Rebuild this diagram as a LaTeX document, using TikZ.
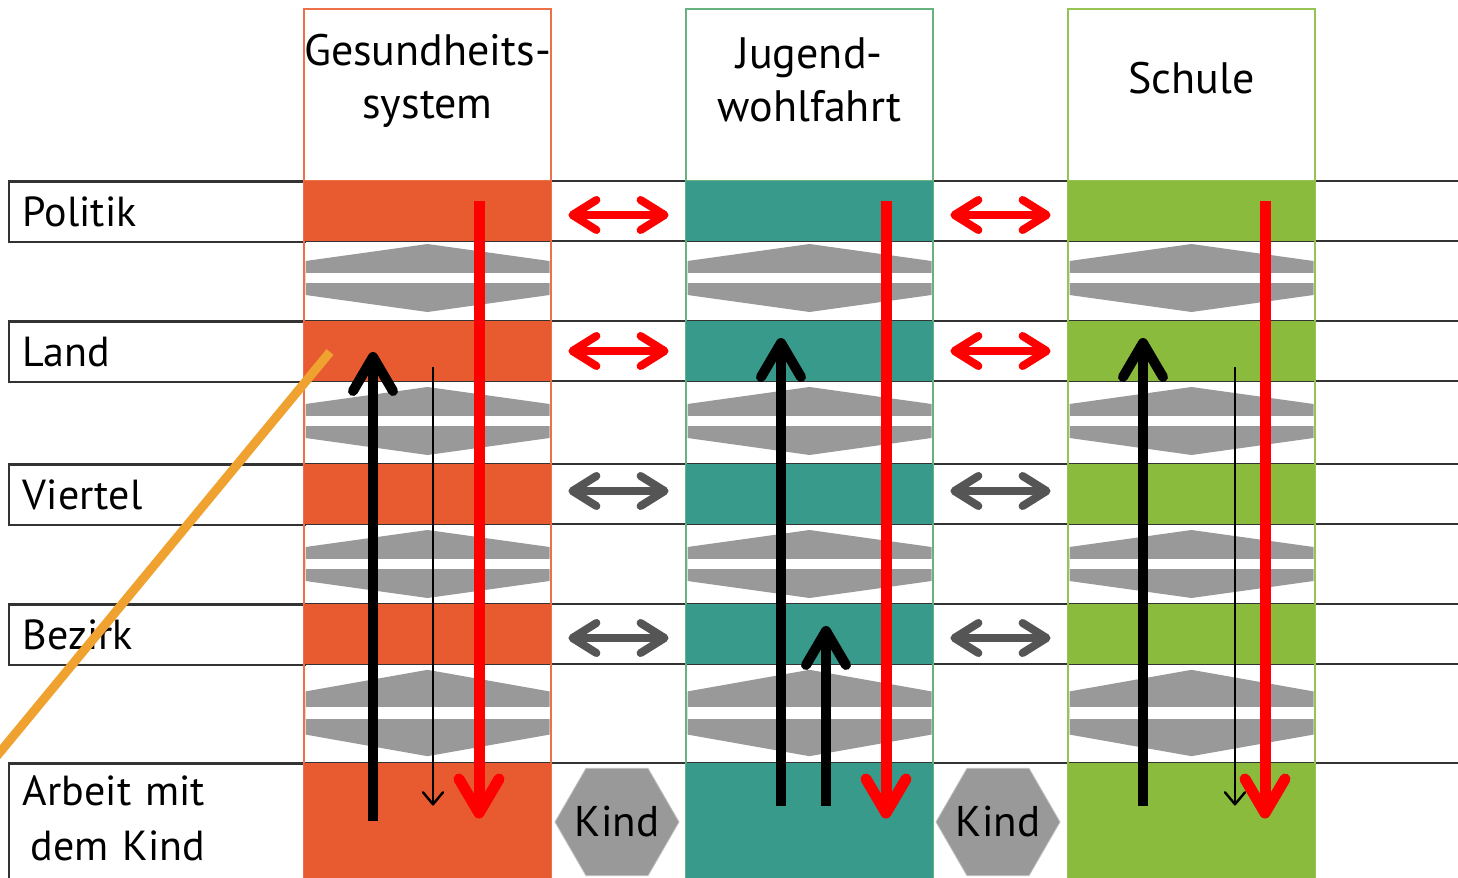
\documentclass[tikz,border=0pt]{standalone}
\usepackage{fontspec}
\setmainfont{PT Sans}
\usetikzlibrary{arrows.meta,shapes.geometric}

\definecolor{gesund}{RGB}{232,90,48}
\definecolor{gesundrand}{RGB}{236,112,72}
\definecolor{jugend}{RGB}{56,154,139}
\definecolor{jugendrand}{RGB}{104,178,128}
\definecolor{schule}{RGB}{139,187,60}
\definecolor{schulerand}{RGB}{150,196,84}
\definecolor{grau}{RGB}{153,153,153}
\definecolor{pfeilgrau}{RGB}{85,85,85}
\definecolor{strich}{RGB}{240,162,48}

\tikzset{
  linie/.style={draw=black!80, line width=0.9pt},
  ebene/.style={linie, fill=white, anchor=north west, minimum height=30pt,
    inner xsep=7pt, text width=134pt, align=left, font=\fontsize{21}{27.5}\selectfont},
  kopf/.style={align=center, font=\fontsize{22}{26.5}\selectfont},
  zelle/.style={minimum width=123.5pt, minimum height=30pt, inner sep=0pt},
  kindfeld/.style={regular polygon, regular polygon sides=6, minimum size=62pt, inner sep=0pt,
    fill=grau, draw=black!25},
  kindtext/.style={inner sep=0pt, font=\fontsize{21.5}{22}\selectfont},
  verbindung/.pic={
    \fill[grau] (-122,-17) -- (0,-34) -- (122,-17) -- (122,17) -- (0,34) -- (-122,17) -- cycle;
    \fill[white] (-122,-5) rectangle (122,5);
  },
  runter/.style={red, line width=5.5pt, -{Straight Barb[round, length=17pt, width=20pt]}},
  rauf/.style={black, line width=5pt, -{Straight Barb[round, length=17pt, width=20pt]}},
  duenn/.style={black, line width=1.2pt, -{Straight Barb[round, length=6pt, width=10pt]}},
  beide/.style={line width=4pt, {Straight Barb[round, length=12pt, width=15pt]}-{Straight Barb[round, length=12pt, width=15pt]},
    shorten <=8.5pt, shorten >=8.5pt},
}

\begin{document}
\begin{tikzpicture}[x=0.5pt, y=-0.5pt]
    \path[use as bounding box] (0,0) rectangle (1458,878);

    % Ebenen
    \foreach \y in {181,241,321,381,464,524,604,664,763}
        \draw[linie] (8,\y) -- (1458,\y);
    \node[ebene] (politik) at (8,181) {Politik};
    \node[ebene] (land) at (8,321) {Land};
    \node[ebene] (viertel) at (8,464) {Viertel};
    \node[ebene] (bezirk) at (8,604) {Bezirk};
    \node[ebene, inner ysep=6pt] (arbeit) at (8,763) {Arbeit mit\\\hspace*{4pt}dem Kind\rule[-9pt]{0pt}{1pt}};

    % Systeme
    \foreach \x/\f/\r/\n in {304/gesund/gesundrand/g, 686/jugend/jugendrand/j, 1068/schule/schulerand/s} {
        \draw[\r, line width=1pt, fill=white] (\x,9) rectangle (\x+247,181);
        \draw[\r, line width=0.6pt] (\x,181) -- (\x,880) (\x+247,181) -- (\x+247,880);
        \node[zelle, fill=\f] (\n1) at (\x+123.5,211) {};
        \node[zelle, fill=\f] (\n2) at (\x+123.5,351) {};
        \node[zelle, fill=\f] (\n3) at (\x+123.5,494) {};
        \node[zelle, fill=\f] (\n4) at (\x+123.5,634) {};
        \node[zelle, fill=\f, minimum height=58pt] (\n5) at (\x+123.5,821) {};
        \pic at (\x+123.5,278) {verbindung};
        \pic at (\x+123.5,421) {verbindung};
        \pic at (\x+123.5,564) {verbindung};
        \pic[yscale=1.27] at (\x+123.5,713) {verbindung};
    }
    \node[kopf] (gkopf) at (427.5,81) {Gesundheits-\\system};
    \node[kopf] (jkopf) at (809.5,80) {Jugend-\\wohlfahrt};
    \node[kopf] (skopf) at (1191.5,78) {Schule};

    \node[kindfeld, label={[kindtext]center:Kind}] (kind1) at (617,822) {};
    \node[kindfeld, label={[kindtext]center:Kind}] (kind2) at (998,822) {};

    \coordinate (strichoben) at (330,352);
    \coordinate (strichunten) at (-4,757);
    \draw[strich, line width=4.5pt] (strichoben) -- (strichunten);

    % zwischen den Systemen
    \draw[beide, red] ([yshift=-2pt]g1.east) -- ([yshift=-2pt]j1.west);
    \draw[beide, red] ([yshift=-2pt]j1.east) -- ([yshift=-2pt]s1.west);
    \draw[beide, red] (g2) -- (j2);
    \draw[beide, red] (j2) -- (s2);
    \draw[beide, pfeilgrau] ([yshift=1.5pt]g3.east) -- ([yshift=1.5pt]j3.west);
    \draw[beide, pfeilgrau] ([yshift=1.5pt]j3.east) -- ([yshift=1.5pt]s3.west);
    \draw[beide, pfeilgrau] ([yshift=-2pt]g4.east) -- ([yshift=-2pt]j4.west);
    \draw[beide, pfeilgrau] ([yshift=-2pt]j4.east) -- ([yshift=-2pt]s4.west);

    % innerhalb der Systeme
    \draw[rauf] ([shift={(-54.5,0)}]g5.center) -- ([shift={(-54.5,1)}]g2.center);
    \draw[duenn] ([shift={(5.5,16)}]g2.center) -- ([shift={(5.5,-15.5)}]g5.center);
    \draw[runter] ([shift={(51.5,-10)}]g1.center) -- ([shift={(51.5,-2.5)}]g5.center);

    \draw[rauf] ([shift={(-28.5,-15.5)}]j5.center) -- ([shift={(-28.5,-13)}]j2.center);
    \draw[rauf] ([shift={(16.5,-15.5)}]j5.center) -- ([shift={(16.5,-8)}]j4.center);
    \draw[runter] ([shift={(76.5,-10)}]j1.center) -- ([shift={(76.5,-2.5)}]j5.center);

    \draw[rauf] ([shift={(-48.5,-15.5)}]s5.center) -- ([shift={(-48.5,-13)}]s2.center);
    \draw[duenn] ([shift={(43.5,16)}]s2.center) -- ([shift={(43.5,-15.5)}]s5.center);
    \draw[runter] ([shift={(73.5,-10)}]s1.center) -- ([shift={(73.5,-2.5)}]s5.center);
\end{tikzpicture}
\end{document}
